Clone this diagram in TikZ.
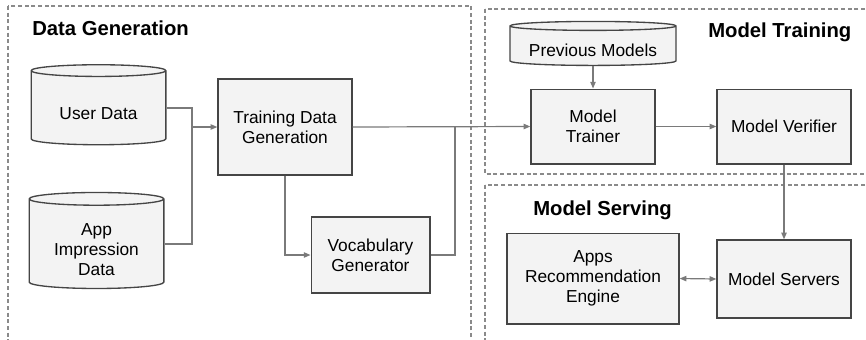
\documentclass[tikz,border=0pt]{standalone}
\usepackage{fontspec}
\setmainfont{Liberation Sans}
\usetikzlibrary{shapes.geometric,arrows.meta}

\definecolor{boxfill}{HTML}{F3F3F3}
\definecolor{boxline}{HTML}{454545}
\definecolor{wire}{HTML}{7A7A7A}
\definecolor{frame}{HTML}{8A8A8A}

\tikzset{
  block/.style={draw=boxline, fill=boxfill, line width=1pt, align=center,
    inner sep=0pt, font=\fontsize{13}{15}\selectfont},
  store/.style={block, cylinder, shape border rotate=90},
  wireline/.style={draw=wire, line width=0.9pt},
  arr/.style={wireline, -{Triangle[length=5pt,width=4pt]}},
  dblarr/.style={wireline, {Triangle[length=5pt,width=4pt]}-{Triangle[length=5pt,width=4pt]}},
  stage/.style={draw=frame, line width=0.8pt, dash pattern=on 3pt off 2pt},
  title/.style={anchor=base west, inner sep=0pt, font=\fontsize{15.2}{18}\selectfont\bfseries}
}

\begin{document}
\begin{tikzpicture}[x=0.75pt, y=-0.75pt]
  \useasboundingbox (0,0) rectangle (866,339);

  % Stage frames
  \draw[stage] (8,6) rectangle (471,350);
  \draw[stage] (485,9) rectangle (880,174);
  \draw[stage] (485,185) rectangle (880,350);

  \node[title] (gentitle) at (32,35) {Data Generation};
  \node[title] (traintitle) at (708,37) {Model Training};
  \node[title] (servetitle) at (533,215.5) {Model Serving};

  % Data generation (text height pushes the label below the lid)
  \node[store, minimum width=101pt, minimum height=60pt, shape aspect=0.15,
    text height=17pt, text depth=0pt] (user) at (98.5,108) {User Data};
  \node[store, minimum width=101pt, minimum height=72pt, shape aspect=0.15,
    text height=46.8pt] (app) at (96.5,244) {App\\Impression\\Data};
  \node[block, minimum width=100.5pt, minimum height=72pt] (tdg) at (285,127) {Training Data\\Generation};
  \node[block, minimum width=89pt, minimum height=57pt] (vocab) at (370.5,255) {Vocabulary\\Generator};

  % Model training
  \node[store, minimum width=124.5pt, minimum height=33pt, shape aspect=0.07,
    text height=15.5pt, text depth=0pt] (prev) at (593,46) {Previous Models};
  \node[block, minimum width=93pt, minimum height=56pt] (trainer) at (593,126.5) {Model\\Trainer};
  \node[block, minimum width=100.5pt, minimum height=56pt] (verifier) at (784,126.5) {Model Verifier};

  % Model serving
  \node[block, minimum width=129pt, minimum height=68pt] (engine) at (593,278.5) {Apps\\Recommendation\\Engine};
  \node[block, minimum width=100.5pt, minimum height=58.5pt] (servers) at (784,279) {Model Servers};

  % Connectors
  \coordinate (join) at (192,127);
  \coordinate (merge) at (455,127);
  \draw[wireline] (user.east) -| (join);
  \draw[wireline] (app.east) -| (join);
  \draw[arr] (join) -- (tdg.west);
  \draw[arr] (tdg.south) |- (vocab.west);
  \draw[wireline] (vocab.east) -| (merge);
  \draw[arr] (tdg.east) -- (trainer.west);
  \draw[arr] (prev.south) -- (trainer.north);
  \draw[arr] (trainer.east) -- (verifier.west);
  \draw[arr] (verifier.south) -- (servers.north);
  \draw[dblarr] (engine.east) -- (servers.west);
\end{tikzpicture}
\end{document}
